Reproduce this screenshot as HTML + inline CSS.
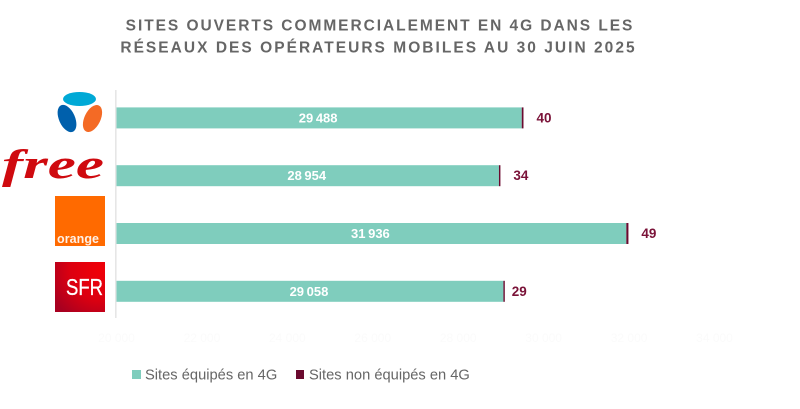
<!DOCTYPE html>
<html lang="fr">
<head>
<meta charset="utf-8">
<title>Sites ouverts commercialement en 4G</title>
<style>
html,body{margin:0;padding:0;background:#fff;}
svg{display:block;}
text{font-family:"Liberation Sans",sans-serif;}
</style>
</head>
<body>
<svg id="chart" width="800" height="409" viewBox="0 0 800 409" xmlns="http://www.w3.org/2000/svg">
  <rect width="800" height="409" fill="#fff"/>
  <g fill="#666" font-size="15.5" font-weight="bold" text-anchor="middle">
    <text x="380" y="30.5" letter-spacing="1.95">SITES OUVERTS COMMERCIALEMENT EN 4G DANS LES</text>
    <text x="378.5" y="52.5" letter-spacing="2.03">RÉSEAUX DES OPÉRATEURS MOBILES AU 30 JUIN 2025</text>
  </g>

  <g>
    <ellipse cx="79.5" cy="99" rx="16.5" ry="7" fill="#00a9d6"/>
    <ellipse cx="67" cy="118.5" rx="8" ry="14.5" transform="rotate(-24 67 118.5)" fill="#0060ac"/>
    <ellipse cx="92.5" cy="118.5" rx="8" ry="14.5" transform="rotate(26 92.5 118.5)" fill="#f46a25"/>
  </g>
  <text x="2" y="178" font-style="italic" font-weight="bold" font-size="41" fill="#cf0a0f" textLength="102" lengthAdjust="spacingAndGlyphs" style="font-family:'Liberation Serif',serif">free</text>
  <g>
    <rect x="55" y="196" width="50" height="50" fill="#ff6a00"/>
    <text x="57" y="243" font-size="12.5" font-weight="bold" fill="#fff" fill-opacity="0.9" textLength="42">orange</text>
  </g>
  <defs>
    <radialGradient id="sfrGrad" cx="0.9" cy="0.15" r="1.1">
      <stop offset="0" stop-color="#f00008"/><stop offset="0.55" stop-color="#dc0010"/><stop offset="1" stop-color="#a80020"/>
    </radialGradient>
  </defs>
  <g>
    <rect x="55" y="262" width="50" height="50" fill="url(#sfrGrad)"/>
    <text x="66" y="295" font-size="23.5" fill="#fff" stroke="#fff" stroke-width="0.3" textLength="37" lengthAdjust="spacingAndGlyphs">SFR</text>
  </g>

  <rect x="115" y="90" width="1.6" height="228" fill="#e6e6e6"/>
  <g id="bars"></g>
  <g id="ticks"></g>

  <g font-size="14.7" fill="#666">
    <g>
      <rect x="132" y="370" width="9" height="9" fill="#7fcdbd"/>
      <text x="145" y="379.5">Sites équipés en 4G</text>
    </g>
    <g>
      <rect x="296" y="370" width="8" height="9" fill="#6b0a2f"/>
      <text x="309" y="379.5">Sites non équipés en 4G</text>
    </g>
  </g>
</svg>
<script>
const operators = ["Bouygues Telecom", "Free", "Orange", "SFR"];
const sitesEquipped = [29488, 28954, 31936, 29058];
const sitesNotEquipped = [40, 34, 49, 29];
const tickValues = [20000, 22000, 24000, 26000, 28000, 30000, 32000, 34000];
const tickLabels = ["20 000", "22 000", "24 000", "26 000", "28 000", "30 000", "32 000", "34 000"];

const NS = "http://www.w3.org/2000/svg";
const AXIS_MIN = 20000, AXIS_MAX = 34000, PLOT_X0 = 116.5, PLOT_X1 = 714.5;
const BAND_TOP = 89, BAND_STEP = 57.8, BAR_HEIGHT = 21;
const xScale = v => PLOT_X0 + (v - AXIS_MIN) / (AXIS_MAX - AXIS_MIN) * (PLOT_X1 - PLOT_X0);
const yBand = i => BAND_TOP + i * BAND_STEP + (BAND_STEP - BAR_HEIGHT) / 2;
const lengthOf = v => v / (AXIS_MAX - AXIS_MIN) * (PLOT_X1 - PLOT_X0);
const fmt = v => String(v).replace(/\B(?=(\d{3})+$)/g, "\u202f");

function make(tag, attrs, text) {
  const el = document.createElementNS(NS, tag);
  for (const k in attrs) el.setAttribute(k, attrs[k]);
  if (text !== undefined) el.textContent = text;
  return el;
}

const barsGroup = document.getElementById("bars");
operators.forEach((op, i) => {
  const y = yBand(i);
  const x0 = xScale(AXIS_MIN);
  const x1 = xScale(sitesEquipped[i]);
  const w2 = Math.max(lengthOf(sitesNotEquipped[i]), 1.4);

  const bar = make("rect", {x: x0, y: y, width: x1 - x0, height: BAR_HEIGHT, fill: "#7fcdbd"});
  
  
  barsGroup.appendChild(bar);

  const bar2 = make("rect", {x: x1, y: y, width: w2, height: BAR_HEIGHT, fill: "#6b0a2f"});
  
  
  barsGroup.appendChild(bar2);

  const inner = make("text", {x: (x0 + x1) / 2 - 1, y: y + 15, "text-anchor": "middle", "font-size": 13, "font-weight": "bold", fill: "#fff"}, fmt(sitesEquipped[i]));
  
  
  barsGroup.appendChild(inner);

  // the last label sits closer to its bar in the reference
  const gap = i === operators.length - 1 ? 7 : 13;
  const outer = make("text", {x: x1 + w2 + gap, y: y + 15, "font-size": 13.5, "font-weight": "bold", fill: "#7a1238"}, fmt(sitesNotEquipped[i]));
  
  
  barsGroup.appendChild(outer);
});

const ticksGroup = document.getElementById("ticks");
tickValues.forEach((v, i) => {
  const t = make("text", {x: xScale(v), y: 342, "text-anchor": "middle", "font-size": 12, fill: "#fbfbfb"}, tickLabels[i]);
  
  
  ticksGroup.appendChild(t);
});
</script>
</body>
</html>
